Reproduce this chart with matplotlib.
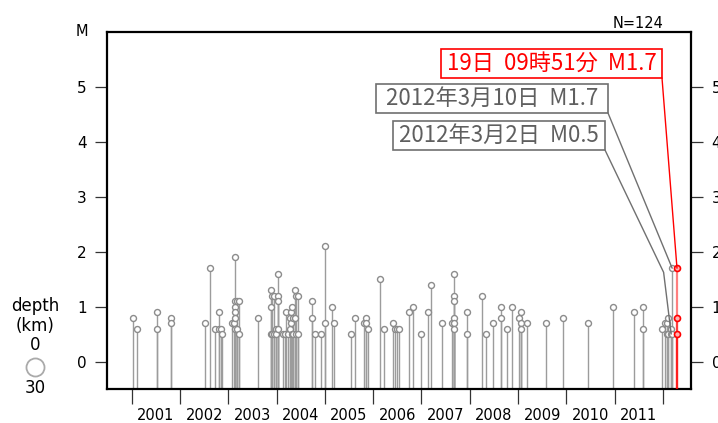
import matplotlib
matplotlib.use('Agg')
import matplotlib.pyplot as plt
from matplotlib.lines import Line2D
from matplotlib.patches import Rectangle

# ---------------- data ----------------
years = [2001.03, 2001.11, 2001.52, 2001.52, 2001.81, 2001.81,
         2002.52, 2002.63, 2002.72, 2002.81, 2002.81, 2002.84, 2002.88,
         2003.08, 2003.12, 2003.14, 2003.14, 2003.14, 2003.14, 2003.14, 2003.14,
         2003.18, 2003.18, 2003.22, 2003.22, 2003.61, 2003.88, 2003.88, 2003.88,
         2003.90, 2003.90, 2003.95, 2003.95, 2003.99, 2003.99,
         2004.03, 2004.03, 2004.03, 2004.03, 2004.13, 2004.17, 2004.19, 2004.23,
         2004.28, 2004.28, 2004.30, 2004.30, 2004.32, 2004.32, 2004.35, 2004.35,
         2004.38, 2004.38, 2004.41, 2004.41, 2004.44, 2004.44, 2004.74, 2004.74,
         2004.80, 2004.92,
         2005.00, 2005.00, 2005.14, 2005.19, 2005.54, 2005.62, 2005.80, 2005.85,
         2005.85, 2005.90,
         2006.15, 2006.23, 2006.41, 2006.46, 2006.50, 2006.54, 2006.75, 2006.82,
         2007.00, 2007.13, 2007.20, 2007.43, 2007.64, 2007.68, 2007.68, 2007.68,
         2007.68, 2007.68, 2007.68, 2007.94, 2007.94,
         2008.25, 2008.34, 2008.49, 2008.64, 2008.64, 2008.77, 2008.87,
         2009.02, 2009.05, 2009.05, 2009.05, 2009.19, 2009.57, 2009.94,
         2010.45, 2010.97, 2011.39, 2011.59, 2011.59, 2011.97,
         2012.04, 2012.08, 2012.08, 2012.11, 2012.11, 2012.17, 2012.17,
         2012.19, 2012.19]
mags = [0.8, 0.6, 0.9, 0.6, 0.8, 0.7,
        0.7, 1.7, 0.6, 0.9, 0.6, 0.6, 0.5,
        0.7, 0.7, 1.9, 1.1, 1.0, 0.9, 0.8, 0.6,
        1.1, 0.6, 1.1, 0.5, 0.8, 1.3, 1.0, 0.5,
        1.2, 0.5, 1.2, 0.5, 0.6, 0.5,
        1.6, 1.2, 1.1, 0.6, 0.5, 0.5, 0.9, 0.5,
        0.8, 0.6, 0.9, 0.7, 1.0, 0.5, 0.8, 0.5,
        1.3, 0.8, 1.2, 0.5, 1.2, 0.5, 1.1, 0.8,
        0.5, 0.5,
        2.1, 0.7, 1.0, 0.7, 0.5, 0.8, 0.7, 0.8,
        0.7, 0.6,
        1.5, 0.6, 0.7, 0.6, 0.6, 0.6, 0.9, 1.0,
        0.5, 0.9, 1.4, 0.7, 0.7, 1.6, 1.2, 1.1,
        0.8, 0.7, 0.6, 0.9, 0.5,
        1.2, 0.5, 0.7, 1.0, 0.8, 0.6, 1.0,
        0.8, 0.9, 0.7, 0.6, 0.7, 0.7, 0.8,
        0.7, 1.0, 0.9, 1.0, 0.6, 0.6,
        0.7, 0.7, 0.5, 0.8, 0.5, 0.6, 0.5,
        1.7, 0.5]

red_years = [2012.29, 2012.29, 2012.29]
red_mags = [1.7, 0.8, 0.5]

year_ticks = list(range(2001, 2013))
year_labels = [str(y) for y in range(2001, 2012)]
m_ticks = [0, 1, 2, 3, 4, 5]

# annotation targets
ann_gray1 = (2012.19, 1.7, "2012年3月10日  M1.7")
ann_gray2 = (2012.17, 0.5, "2012年3月2日  M0.5")
ann_red = (2012.29, 1.7, "19日  09時51分  M1.7")
n_total = 124

# ---------------- figure ----------------
W, H = 718, 423
fig = plt.figure(figsize=(W / 100, H / 100), dpi=100)
ax = fig.add_axes([107.3 / W, 1 - 389 / H, (691 - 107.3) / W, (389 - 32) / H])
ax.set_xlim(2000.495, 2012.58)
ax.set_ylim(-0.5, 6.0)

ymin = -0.5
ax.vlines(years, ymin, mags, colors='#9c9c9c', linewidth=1.0, zorder=2)
ax.plot(years, mags, 'o', ms=4.3, mfc='white', mec='#8c8c8c', mew=1.0,
        linestyle='none', zorder=3)

ax.vlines(red_years, ymin, red_mags, colors='red', linewidth=1.6, alpha=0.5, zorder=4)
ax.plot(red_years, red_mags, 'o', ms=4.3, mfc='#ffb0b0', mec='red', mew=1.2,
        linestyle='none', zorder=5)

for sp in ax.spines.values():
    sp.set_linewidth(1.6)
    sp.set_color('black')

ax.set_yticks(m_ticks)
ax.set_yticklabels([str(m) for m in m_ticks])
ax.tick_params(axis='y', which='major', direction='out', length=8.4, width=0.9,
               color='#333333', pad=6.5, labelsize=11, left=True, right=True,
               labelleft=True, labelright=True)

ax.set_xticks(year_ticks)
ax.set_xticklabels([''] * len(year_ticks))
ax.set_xticks([y + 0.5 for y in range(2001, 2012)], minor=True)
ax.set_xticklabels(year_labels, minor=True)
ax.tick_params(axis='x', which='major', direction='out', length=11, width=0.9,
               color='#333333')
ax.tick_params(axis='x', which='minor', length=0, pad=13.5, labelsize=10.5)

fig.text(82 / W, 1 - 32 / H, 'M', ha='center', va='center', fontsize=10.5)
fig.text(663 / W, 1 - 24 / H, f'N={n_total}', ha='right', va='center', fontsize=10.5)

# depth legend
for txt, yy in [('depth', 306), ('(km)', 326), ('0', 345), ('30', 388)]:
    fig.text(35 / W, 1 - yy / H, txt, ha='center', va='center', fontsize=12)
fig.add_artist(Line2D([34.5 / W], [1 - 367 / H], marker='o', ms=13, mfc='none',
                      mec='#aaaaaa', mew=1.3, transform=fig.transFigure))

# annotation boxes
cjk = ['Noto Sans CJK JP', 'DejaVu Sans']
boxes = [
    (ann_red, (441, 49, 662, 78), 'red', 'red', None),
    (ann_gray1, (376, 84, 608, 113), '#5f5f5f', '#707070', None),
    (ann_gray2, (393, 121, 605, 150), '#5f5f5f', '#707070', 'angle,angleA=-64.4,angleB=97,rad=0'),
]
for (tx, tm, label), (x0, y0, x1, y1), tcol, ecol, cstyle in boxes:
    fig.add_artist(Rectangle((x0 / W, 1 - y1 / H), (x1 - x0) / W, (y1 - y0) / H,
                             transform=fig.transFigure, fill=True, fc='white',
                             ec=ecol, lw=1.2, zorder=6))
    fig.text((x0 + x1) / 2 / W, 1 - (y0 + y1) / 2 / H, label, ha='center', va='center',
             fontsize=16, color=tcol, family=cjk, zorder=7)
    props = dict(arrowstyle='-', color=ecol, lw=1.0, shrinkA=0, shrinkB=0)
    if cstyle:
        props['connectionstyle'] = cstyle
    ax.annotate('', xy=(tx, tm), xycoords='data',
                xytext=(x1 / W, 1 - y1 / H), textcoords='figure fraction',
                arrowprops=props, annotation_clip=False, zorder=5)

fig.savefig('out.png', dpi=100)
